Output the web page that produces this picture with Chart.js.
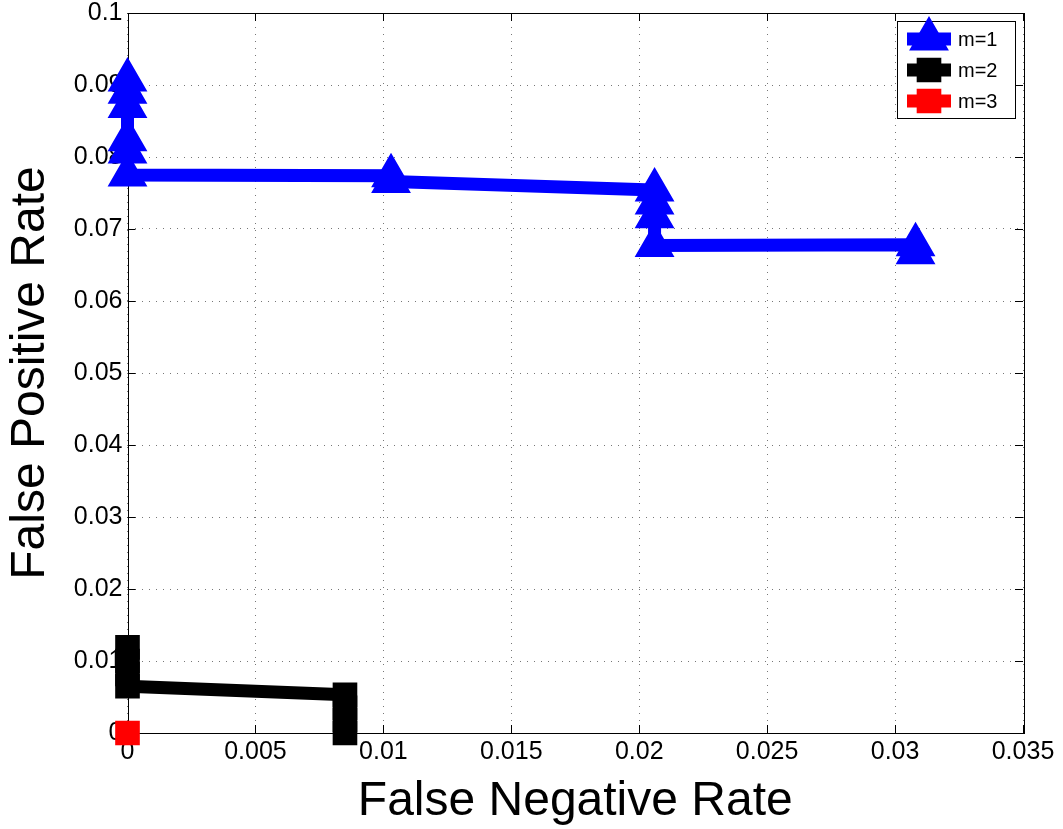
<!DOCTYPE html>
<html>
<head>
<meta charset="utf-8">
<script src="https://cdn.jsdelivr.net/npm/chart.js@4"></script>
<style>
  html, body { margin: 0; padding: 0; background: #fff; }
  #wrap { width: 1063px; height: 829px; }
</style>
</head>
<body>
<div id="wrap"><canvas id="rocChart"></canvas></div>
<script>
// values
const m1X = [0, 0, 0, 0, 0, 0, 0.0103, 0.0103, 0.0206, 0.0206, 0.0206, 0.0206, 0.0308, 0.0308];
const m1Y = [0.0907, 0.0890, 0.0870, 0.0824, 0.0807, 0.0775, 0.0774, 0.0766, 0.0754, 0.0736, 0.0717, 0.0677, 0.0678, 0.0667];
const m2X = [0, 0, 0, 0, 0.0085, 0.0085, 0.0085, 0.0085];
const m2Y = [0.0119, 0.0100, 0.0082, 0.0065, 0.0053, 0.0035, 0.0018, 0];
const m3X = [0];
const m3Y = [0];
const seriesLabels = ['m=1', 'm=2', 'm=3'];
const xTicks = [0, 0.005, 0.01, 0.015, 0.02, 0.025, 0.03, 0.035];
const yTicks = [0, 0.01, 0.02, 0.03, 0.04, 0.05, 0.06, 0.07, 0.08, 0.09, 0.1];

const FONT = '"Liberation Sans", Arial, Helvetica, sans-serif';
const toPts = (xs, ys) => xs.map((x, i) => ({ x: x, y: ys[i] }));
const fmt = v => String(Number(v.toFixed(4)));

// box + inward tick marks, like the matlab axes
const axesBox = {
  id: 'axesBox',
  beforeDatasetsDraw(chart) {
    const { ctx, chartArea: a, scales } = chart;
    const len = 8;
    ctx.save();
    ctx.strokeStyle = '#000';
    ctx.lineWidth = 1;
    ctx.beginPath();
    xTicks.forEach(v => {
      const px = Math.round(scales.x.getPixelForValue(v)) + 0.5;
      ctx.moveTo(px, a.bottom); ctx.lineTo(px, a.bottom - len);
      ctx.moveTo(px, a.top); ctx.lineTo(px, a.top + len);
    });
    yTicks.forEach(v => {
      const py = Math.round(scales.y.getPixelForValue(v)) + 0.5;
      ctx.moveTo(a.left, py); ctx.lineTo(a.left + len, py);
      ctx.moveTo(a.right, py); ctx.lineTo(a.right - len, py);
    });
    ctx.stroke();
    ctx.strokeRect(Math.round(a.left) + 0.5, Math.round(a.top) + 0.5,
      Math.round(a.right - a.left), Math.round(a.bottom - a.top));
    ctx.restore();
  }
};

// legend box in the upper right corner, line + marker + text
const boxLegend = {
  id: 'boxLegend',
  afterDraw(chart) {
    const { ctx, chartArea: a } = chart;
    const w = 118, h = 97;
    const x0 = a.right - 8 - w, y0 = a.top + 8;
    ctx.save();
    ctx.fillStyle = '#fff';
    ctx.fillRect(x0, y0, w, h);
    ctx.strokeStyle = '#000';
    ctx.lineWidth = 1;
    ctx.strokeRect(Math.round(x0) + 0.5, Math.round(y0) + 0.5, w, h);
    chart.data.datasets.forEach((ds, i) => {
      const cy = y0 + 18 + i * 31;
      const cx = x0 + 32;
      ctx.strokeStyle = ds.borderColor;
      ctx.lineWidth = ds.borderWidth;
      ctx.beginPath();
      ctx.moveTo(cx - 22, cy); ctx.lineTo(cx + 22, cy);
      ctx.stroke();
      ctx.fillStyle = ds.pointBackgroundColor;
      ctx.strokeStyle = ds.pointBorderColor;
      ctx.lineWidth = ds.pointBorderWidth;
      Chart.helpers.drawPoint(ctx, { pointStyle: ds.pointStyle, radius: ds.pointRadius, borderWidth: ds.pointBorderWidth, rotation: 0 }, cx, cy);
      ctx.fillStyle = '#000';
      ctx.font = '20px ' + FONT;
      ctx.textAlign = 'left';
      ctx.textBaseline = 'middle';
      ctx.fillText(ds.label, x0 + 61, cy + 1);
    });
    ctx.restore();
  }
};

function series(label, xs, ys, color, style, radius, bw) {
  return {
    label: label,
    data: toPts(xs, ys),
    showLine: true,
    borderColor: color,
    backgroundColor: color,
    borderWidth: 13,
    pointStyle: style,
    pointRadius: radius,
    pointHoverRadius: radius,
    pointBackgroundColor: color,
    pointBorderColor: color,
    pointBorderWidth: bw,
    clip: false
  };
}

new Chart(document.getElementById('rocChart'), {
  type: 'scatter',
  data: {
    datasets: [
      series(seriesLabels[0], m1X, m1Y, '#0000ff', 'triangle', 21, 2),
      series(seriesLabels[1], m2X, m2Y, '#000000', 'rect', 16, 2),
      series(seriesLabels[2], m3X, m3Y, '#ff0000', 'rect', 16, 2)
    ]
  },
  options: {
    responsive: true,
    maintainAspectRatio: false,
    animation: false,
    layout: { autoPadding: false, padding: { top: 13, right: 40, left: 0, bottom: 0 } },
    plugins: { legend: { display: false }, tooltip: { enabled: false } },
    scales: {
      x: {
        type: 'linear',
        min: 0, max: 0.035,
        afterFit: s => { s.height = 96; s.paddingLeft = 0; s.paddingRight = 0; },
        afterBuildTicks: s => { s.ticks = xTicks.map(v => ({ value: v })); },
        ticks: { color: '#000', padding: 7, font: { family: FONT, size: 25, lineHeight: 1 }, callback: fmt, maxRotation: 0 },
        grid: { color: '#777', lineWidth: 1, drawTicks: false },
        border: { display: false, dash: [1, 6] },
        title: { display: true, text: 'False Negative Rate', color: '#000', font: { family: FONT, size: 48, lineHeight: 1 }, padding: { top: 0, bottom: 3 } }
      },
      y: {
        type: 'linear',
        min: 0, max: 0.1,
        afterFit: s => { s.width = 127.5; s.paddingTop = 0; s.paddingBottom = 0; },
        afterBuildTicks: s => { s.ticks = yTicks.map(v => ({ value: v })); },
        ticks: { color: '#000', padding: 5, font: { family: FONT, size: 25, lineHeight: 1 }, callback: fmt },
        grid: { color: '#777', lineWidth: 1, drawTicks: false },
        border: { display: false, dash: [1, 6] },
        title: { display: true, text: 'False Positive Rate', color: '#000', font: { family: FONT, size: 48, lineHeight: 1 }, padding: { top: 7, bottom: 0 } }
      }
    }
  },
  plugins: [axesBox, boxLegend]
});
</script>
</body>
</html>
